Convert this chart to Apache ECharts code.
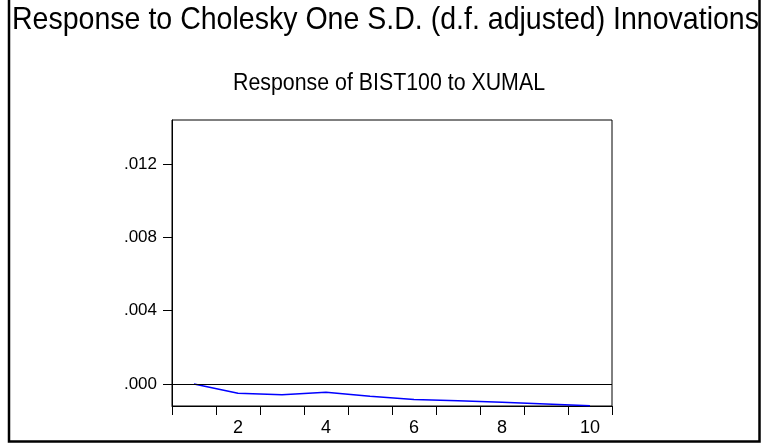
<!DOCTYPE html>
<html>
<head>
<meta charset="utf-8">
<style>
html, body { margin: 0; padding: 0; background: #fff; }
#chart { width: 761px; height: 445px; }
</style>
</head>
<body>
<div id="chart"></div>
<script src="https://cdn.jsdelivr.net/npm/echarts@6/dist/echarts.min.js"></script>
<script>
// periods and response of BIST100 to XUMAL
var periods = ['1', '2', '3', '4', '5', '6', '7', '8', '9', '10'];
var response = [0.0000, -0.00051, -0.00058, -0.00045, -0.00067, -0.00084, -0.00092, -0.00100, -0.00109, -0.00118];
var yTicks = [0, 0.004, 0.008, 0.012];

var mainTitle = 'Response to Cholesky One S.D. (d.f. adjusted) Innovations';
var subTitle = 'Response of BIST100 to XUMAL';

var chart = echarts.init(document.getElementById('chart'));
var family = '"Liberation Sans", Arial, sans-serif';

// the titles are drawn in a condensed face, so squeeze normal text to the same width
var ctx = document.createElement('canvas').getContext('2d');
function squeeze(text, size, width) {
	ctx.font = size + 'px ' + family;
	return width / ctx.measureText(text).width;
}

function titleText(text, size, left, width, y) {
	return {
		type: 'text', x: left, y: y,
		scaleX: squeeze(text, size, width), scaleY: 1,
		silent: true,
		style: {
			x: 0, y: 0, text: text, fill: '#000',
			font: size + 'px ' + family,
			align: 'left', verticalAlign: 'middle'
		}
	};
}

var option = {
	animation: false,
	backgroundColor: '#fff',
	graphic: [
		titleText(mainTitle, 32, 12, 747, 20),
		titleText(subTitle, 23, 233, 312, 84),
		{
			type: 'rect', silent: true,
			shape: { x: 9, y: -3, width: 750.5, height: 444.5 },
			style: { fill: 'none', stroke: '#000', lineWidth: 2.5 }
		}
	],
	grid: {
		left: 172, right: 149, top: 120, bottom: 39,
		show: true, borderColor: '#000', borderWidth: 1, backgroundColor: 'transparent'
	},
	xAxis: {
		type: 'category',
		data: periods,
		boundaryGap: true,
		axisLine: { onZero: false, lineStyle: { color: '#000', width: 1 } },
		axisTick: { show: true, interval: 0, length: 9, lineStyle: { color: '#000' } },
		axisLabel: {
			interval: function (i) { return i % 2 === 1; },
			margin: 13, color: '#000', fontSize: 18, fontFamily: family
		},
		splitLine: { show: false }
	},
	yAxis: {
		type: 'value',
		min: -0.0012, max: 0.0144,
		axisLine: { show: true, lineStyle: { color: '#000' } },
		axisTick: { show: true, length: 9, customValues: yTicks, lineStyle: { color: '#000' } },
		axisLabel: {
			customValues: yTicks,
			margin: 15, color: '#000', fontSize: 17, fontFamily: family,
			verticalAlign: 'middle', padding: [0, 0, 6, 0],
			formatter: function (v) { return v.toFixed(3).replace(/^0/, ''); }
		},
		splitLine: { show: false }
	},
	series: [
		{
			type: 'line',
			data: response,
			symbol: 'none',
			lineStyle: { color: '#0000ff', width: 1.5 },
			markLine: {
				silent: true, symbol: 'none', label: { show: false },
				lineStyle: { color: '#000', width: 1, type: 'solid' },
				data: [{ yAxis: 0 }]
			}
		}
	]
};
chart.setOption(option);
</script>
</body>
</html>
